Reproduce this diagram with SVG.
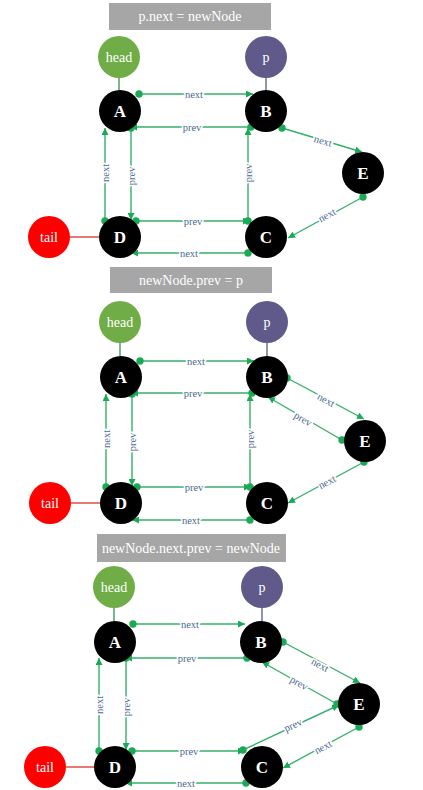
<svg xmlns="http://www.w3.org/2000/svg" width="423" height="790" viewBox="0 0 423 790">
<style>
.bg{fill:#ffffff}
.title rect{fill:#a6a6a6}
.title text{fill:#ffffff;font-family:"Liberation Serif","Times New Roman",serif;font-size:14px;text-anchor:middle}
.node circle{fill:#000000}
.node text{fill:#ffffff;font-family:"Liberation Serif","Times New Roman",serif;font-size:17px;font-weight:bold;text-anchor:middle;dominant-baseline:central}
.ptr text{fill:#ffffff;font-family:"Liberation Serif","Times New Roman",serif;font-size:14px;text-anchor:middle;dominant-baseline:central}
.head circle{fill:#70ad47}
.pp circle{fill:#5f5a8a}
.tail circle{fill:#ff0000}
.e{stroke:#34b06a;stroke-width:1.4;fill:none;marker-start:url(#dot);marker-end:url(#arr)}
.lbl{fill:#4a6a92;font-family:"Liberation Serif","Times New Roman",serif;font-size:10.5px;text-anchor:middle;dominant-baseline:central;stroke:#ffffff;stroke-width:3;paint-order:stroke;stroke-linejoin:round}
.lh{stroke:#3f9a5c;stroke-width:1.4}
.lp{stroke:#5e6a8c;stroke-width:1.4}
.lt{stroke:#e0403a;stroke-width:1.4}
</style>
<defs>
<marker id="arr" viewBox="0 0 10 10" refX="10" refY="5" markerWidth="7" markerHeight="7" markerUnits="userSpaceOnUse" orient="auto"><path d="M0,0L10,5L0,10z" fill="#1aaa55"/></marker>
<marker id="dot" viewBox="0 0 10 10" refX="5" refY="5" markerWidth="8" markerHeight="8" markerUnits="userSpaceOnUse"><circle cx="5" cy="5" r="4.6" fill="#1aaa55"/></marker>
</defs>
<rect class="bg" x="0" y="0" width="423" height="790"/>

<!-- ===== Panel 1 ===== -->
<g id="p1-title" class="title"><rect x="109" y="3" width="162" height="27"/><text x="190" y="21">p.next = newNode</text></g>
<g id="p1-connectors">
<line class="lh" x1="119" y1="78" x2="119" y2="90"/>
<line class="lp" x1="266" y1="78" x2="266" y2="90"/>
<line class="lt" x1="70" y1="237" x2="99" y2="237"/>
<line class="e" x1="139" y1="94" x2="253" y2="94"/>
<line class="e" x1="251" y1="127" x2="130" y2="127"/>
<line class="e" x1="105" y1="221" x2="105" y2="128"/>
<line class="e" x1="131" y1="128" x2="131" y2="220"/>
<line class="e" x1="136" y1="221" x2="250" y2="221"/>
<line class="e" x1="248" y1="253" x2="131" y2="253"/>
<line class="e" x1="248" y1="221" x2="248" y2="128"/>
<line class="e" x1="282" y1="128" x2="362" y2="152"/>
<line class="e" x1="363" y1="197" x2="288" y2="238"/>
<text class="lbl" x="194" y="94">next</text>
<text class="lbl" x="192" y="127">prev</text>
<text class="lbl" transform="translate(105,173) rotate(-90)">next</text>
<text class="lbl" transform="translate(131,176) rotate(-90)">prev</text>
<text class="lbl" x="193" y="221">prev</text>
<text class="lbl" x="189" y="253">next</text>
<text class="lbl" transform="translate(248,173) rotate(-90)">prev</text>
<text class="lbl" transform="translate(323,141) rotate(16.4)">next</text>
<text class="lbl" transform="translate(327,215) rotate(-28.7)">next</text>
</g>
<g id="p1-head" class="ptr head"><circle cx="119" cy="57" r="21"/><text x="119" y="57">head</text></g>
<g id="p1-p" class="ptr pp"><circle cx="266" cy="57" r="21"/><text x="266" y="57">p</text></g>
<g id="p1-tail" class="ptr tail"><circle cx="49" cy="237" r="21"/><text x="49" y="237">tail</text></g>
<g id="p1-A" class="node"><circle cx="120" cy="111" r="21"/><text x="120" y="111">A</text></g>
<g id="p1-B" class="node"><circle cx="266" cy="111" r="21"/><text x="266" y="111">B</text></g>
<g id="p1-E" class="node"><circle cx="363" cy="173" r="21"/><text x="363" y="173">E</text></g>
<g id="p1-D" class="node"><circle cx="120" cy="237" r="21"/><text x="120" y="237">D</text></g>
<g id="p1-C" class="node"><circle cx="266" cy="237" r="21"/><text x="266" y="237">C</text></g>

<!-- ===== Panel 2 ===== -->
<g id="p2-title" class="title"><rect x="110" y="267" width="162" height="26"/><text x="191" y="285">newNode.prev = p</text></g>
<g id="p2-connectors">
<line class="lh" x1="120" y1="343" x2="120" y2="356"/>
<line class="lp" x1="267" y1="343" x2="267" y2="356"/>
<line class="lt" x1="71" y1="503" x2="100" y2="503"/>
<line class="e" x1="140" y1="361" x2="254" y2="361"/>
<line class="e" x1="252" y1="393" x2="131" y2="393"/>
<line class="e" x1="106" y1="487" x2="106" y2="394"/>
<line class="e" x1="132" y1="394" x2="132" y2="486"/>
<line class="e" x1="137" y1="487" x2="251" y2="487"/>
<line class="e" x1="250" y1="520" x2="132" y2="520"/>
<line class="e" x1="250" y1="487" x2="250" y2="394"/>
<line class="e" x1="287" y1="378" x2="364" y2="419"/>
<line class="e" x1="342" y1="440" x2="268" y2="397"/>
<line class="e" x1="364" y1="462" x2="288" y2="503"/>
<text class="lbl" x="196" y="361">next</text>
<text class="lbl" x="193" y="393">prev</text>
<text class="lbl" transform="translate(106,439) rotate(-90)">next</text>
<text class="lbl" transform="translate(132,442) rotate(-90)">prev</text>
<text class="lbl" x="194" y="487">prev</text>
<text class="lbl" x="191" y="520">next</text>
<text class="lbl" transform="translate(250,439) rotate(-90)">prev</text>
<text class="lbl" transform="translate(326,400) rotate(28.1)">next</text>
<text class="lbl" transform="translate(303,419) rotate(30.3)">prev</text>
<text class="lbl" transform="translate(327,482) rotate(-28.4)">next</text>
</g>
<g id="p2-head" class="ptr head"><circle cx="120" cy="322" r="21"/><text x="120" y="322">head</text></g>
<g id="p2-p" class="ptr pp"><circle cx="267" cy="322" r="21"/><text x="267" y="322">p</text></g>
<g id="p2-tail" class="ptr tail"><circle cx="50" cy="503" r="21"/><text x="50" y="503">tail</text></g>
<g id="p2-A" class="node"><circle cx="121" cy="377" r="21"/><text x="121" y="377">A</text></g>
<g id="p2-B" class="node"><circle cx="267" cy="377" r="21"/><text x="267" y="377">B</text></g>
<g id="p2-E" class="node"><circle cx="365" cy="441" r="21"/><text x="365" y="441">E</text></g>
<g id="p2-D" class="node"><circle cx="121" cy="503" r="21"/><text x="121" y="503">D</text></g>
<g id="p2-C" class="node"><circle cx="267" cy="503" r="21"/><text x="267" y="503">C</text></g>

<!-- ===== Panel 3 ===== -->
<g id="p3-title" class="title"><rect x="97" y="534" width="189" height="28"/><text x="191" y="553">newNode.next.prev = newNode</text></g>
<g id="p3-connectors">
<line class="lh" x1="114" y1="608" x2="114" y2="621"/>
<line class="lp" x1="262" y1="608" x2="262" y2="621"/>
<line class="lt" x1="66" y1="767" x2="94" y2="767"/>
<line class="e" x1="133" y1="624" x2="245" y2="624"/>
<line class="e" x1="247" y1="658" x2="125" y2="658"/>
<line class="e" x1="99" y1="751" x2="99" y2="658"/>
<line class="e" x1="126" y1="658" x2="126" y2="750"/>
<line class="e" x1="132" y1="751" x2="245" y2="751"/>
<line class="e" x1="246" y1="783" x2="125" y2="783"/>
<line class="e" x1="283" y1="642" x2="360" y2="683"/>
<line class="e" x1="337" y1="704" x2="262" y2="662"/>
<line class="e" x1="243" y1="750" x2="339" y2="705"/>
<line class="e" x1="359" y1="727" x2="283" y2="768"/>
<text class="lbl" x="190" y="624">next</text>
<text class="lbl" x="187" y="658">prev</text>
<text class="lbl" transform="translate(99,705) rotate(-90)">next</text>
<text class="lbl" transform="translate(126,707) rotate(-90)">prev</text>
<text class="lbl" x="189" y="751">prev</text>
<text class="lbl" x="186" y="783">next</text>
<text class="lbl" transform="translate(320,665) rotate(28.1)">next</text>
<text class="lbl" transform="translate(299,683) rotate(29)">prev</text>
<text class="lbl" transform="translate(293,725) rotate(-25)">prev</text>
<text class="lbl" transform="translate(323,747) rotate(-28.4)">next</text>
</g>
<g id="p3-head" class="ptr head"><circle cx="114" cy="587" r="21"/><text x="114" y="587">head</text></g>
<g id="p3-p" class="ptr pp"><circle cx="262" cy="587" r="21"/><text x="262" y="587">p</text></g>
<g id="p3-tail" class="ptr tail"><circle cx="45" cy="767" r="21"/><text x="45" y="767">tail</text></g>
<g id="p3-A" class="node"><circle cx="115" cy="642" r="21"/><text x="115" y="642">A</text></g>
<g id="p3-B" class="node"><circle cx="261" cy="642" r="21"/><text x="261" y="642">B</text></g>
<g id="p3-E" class="node"><circle cx="359" cy="704" r="21"/><text x="359" y="704">E</text></g>
<g id="p3-D" class="node"><circle cx="115" cy="767" r="21"/><text x="115" y="767">D</text></g>
<g id="p3-C" class="node"><circle cx="262" cy="767" r="21"/><text x="262" y="767">C</text></g>
</svg>
